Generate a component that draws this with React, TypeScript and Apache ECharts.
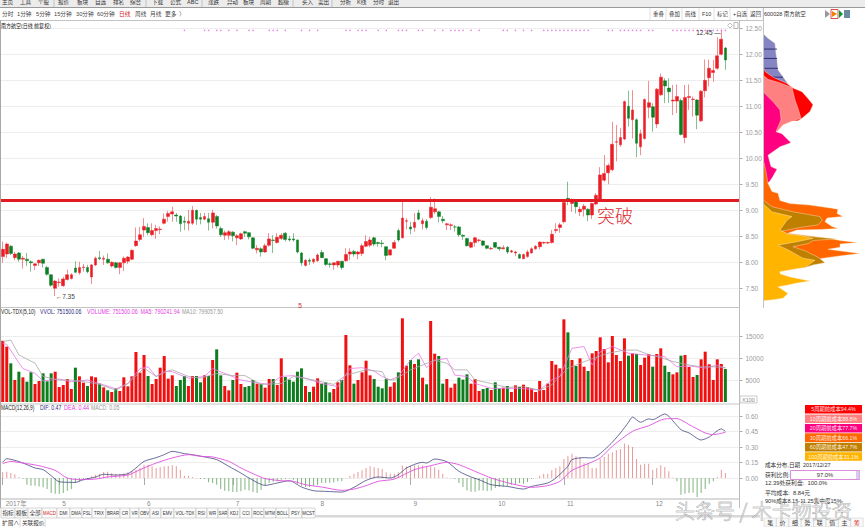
import { useEffect, useRef } from 'react';
import * as echarts from 'echarts';

const FONT = '"Liberation Sans","Noto Sans CJK SC",sans-serif';
const RED = '#ea1c24';
const GREEN = '#0b7f22';

// open, close, low, high
const ohlc: number[][] = [
  [8.11,8.25,7.99,8.40],[8.16,8.35,8.08,8.38],[8.31,8.17,8.14,8.33],[8.09,8.16,8.04,8.20],[8.18,8.06,8.01,8.20],
  [8.06,8.08,7.88,8.12],[8.06,8.03,7.93,8.18],[8.01,7.99,7.82,8.04],[7.94,7.97,7.85,7.98],[7.99,8.04,7.93,8.05],
  [8.06,7.98,7.90,8.06],[7.90,7.77,7.74,7.93],[7.76,7.56,7.53,7.77],[7.50,7.64,7.35,7.66],[7.61,7.62,7.53,7.69],
  [7.55,7.68,7.53,7.72],[7.67,7.76,7.65,7.86],[7.69,7.76,7.67,7.79],[7.89,7.81,7.79,8.02],[7.80,7.90,7.76,8.01],
  [7.90,7.91,7.82,7.97],[7.90,7.82,7.79,7.95],[7.72,7.95,7.58,7.97],[7.95,8.08,7.93,8.11],[8.09,8.07,8.04,8.22],
  [8.06,8.08,7.95,8.13],[8.06,7.99,7.97,8.17],[7.93,8.00,7.90,8.02],[7.99,7.90,7.88,8.01],[7.90,7.99,7.77,8.00],
  [7.99,8.08,7.83,8.11],[8.02,8.10,7.97,8.12],[8.06,8.23,8.04,8.25],[8.32,8.41,8.30,8.67],[8.44,8.53,8.40,8.68],
  [8.62,8.69,8.49,8.85],[8.67,8.57,8.52,8.75],[8.53,8.61,8.51,8.75],[8.61,8.65,8.45,8.72],[8.63,8.64,8.54,8.69],
  [8.75,8.83,8.73,8.94],[8.88,8.94,8.78,8.99],[8.93,8.97,8.78,9.07],[8.91,8.89,8.78,8.95],[8.89,8.74,8.59,8.91],
  [8.79,8.77,8.62,8.88],[8.75,8.79,8.61,9.01],[8.75,9.00,8.72,9.08],[9.00,8.83,8.72,9.01],[8.86,8.83,8.73,8.95],
  [8.83,8.88,8.81,8.95],[8.84,8.77,8.61,8.95],[8.77,8.95,8.65,9.01],[8.88,8.70,8.65,8.91],[8.65,8.53,8.49,8.69],
  [8.52,8.57,8.43,8.61],[8.52,8.59,8.44,8.62],[8.58,8.51,8.40,8.60],[8.47,8.51,8.33,8.54],[8.45,8.55,8.43,8.57],
  [8.59,8.56,8.49,8.61],[8.57,8.49,8.44,8.58],[8.47,8.27,8.25,8.48],[8.24,8.27,8.17,8.33],[8.26,8.20,8.11,8.29],
  [8.20,8.32,8.18,8.36],[8.33,8.45,8.30,8.56],[8.43,8.42,8.18,8.52],[8.38,8.48,8.36,8.56],[8.46,8.52,8.43,8.56],
  [8.56,8.44,8.40,8.58],[8.45,8.43,8.40,8.51],[8.45,8.43,8.40,8.56],[8.43,8.20,8.17,8.44],[8.18,7.99,7.93,8.20],
  [7.94,8.04,7.92,8.06],[8.04,8.02,7.95,8.08],[8.01,8.06,7.97,8.08],[8.03,8.14,8.01,8.17],[8.19,8.09,8.08,8.24],
  [8.07,7.96,7.93,8.08],[7.97,7.96,7.90,8.00],[7.95,7.99,7.86,8.00],[7.95,8.02,7.90,8.03],[8.02,7.90,7.86,8.03],
  [8.03,8.15,8.01,8.27],[8.16,8.20,8.04,8.27],[8.21,8.16,8.11,8.24],[8.16,8.20,8.06,8.22],[8.17,8.32,8.12,8.36],
  [8.31,8.40,8.29,8.52],[8.33,8.43,8.29,8.49],[8.47,8.35,8.31,8.49],[8.38,8.36,8.30,8.40],
  [8.37,8.36,8.29,8.43],[8.30,8.13,8.04,8.31],[8.14,8.24,8.13,8.25],[8.27,8.38,8.26,8.43],[8.61,8.43,8.40,8.65],
  [8.47,8.85,8.46,9.20],[8.79,8.80,8.63,8.85],[8.68,8.64,8.54,8.78],[8.67,8.77,8.59,8.95],[8.95,8.83,8.81,9.01],
  [8.74,8.80,8.63,8.85],[8.79,8.67,8.63,8.83],[8.86,9.06,8.83,9.25],[8.97,9.03,8.93,9.23],[8.97,8.88,8.77,8.99],
  [8.83,8.80,8.75,8.89],[8.72,8.74,8.62,8.76],[8.71,8.72,8.62,8.75],[8.68,8.68,8.59,8.72],[8.68,8.53,8.49,8.70],
  [8.52,8.50,8.43,8.54],[8.46,8.32,8.30,8.47],[8.29,8.38,8.27,8.40],[8.38,8.47,8.30,8.49],[8.42,8.43,8.39,8.45],
  [8.41,8.33,8.31,8.43],[8.32,8.27,8.25,8.33],[8.26,8.27,8.24,8.30],[8.38,8.29,8.27,8.39],[8.29,8.26,8.22,8.30],
  [8.26,8.28,8.25,8.33],[8.29,8.20,8.16,8.31],[8.20,8.22,8.18,8.24],[8.18,8.20,8.12,8.22],[8.15,8.08,8.07,8.17],
  [8.07,8.15,8.06,8.17],[8.11,8.20,8.09,8.24],[8.18,8.26,8.17,8.29],[8.26,8.31,8.24,8.33],[8.30,8.39,8.25,8.40],
  [8.37,8.38,8.35,8.40],[8.37,8.38,8.35,8.40],[8.38,8.54,8.36,8.62],[8.61,8.63,8.56,8.75],[8.67,8.72,8.57,8.76],
  [8.78,9.15,8.75,9.17],[9.23,9.17,9.10,9.55],[9.13,9.20,8.97,9.23],[9.18,9.07,8.94,9.20],[8.97,9.02,8.89,9.07],
  [9.02,9.08,8.88,9.12],[9.02,8.91,8.79,9.04],[8.91,9.13,8.83,9.15],[9.12,9.29,9.10,9.33],[9.20,9.68,9.17,9.83],
  [9.58,9.71,9.55,10.06],[9.72,9.86,9.50,9.90],[9.78,10.27,9.75,10.70],[10.31,10.32,9.94,10.64],[10.26,10.40,10.22,10.58],
  [10.37,11.09,10.35,11.11],[11.00,10.77,10.61,11.30],[10.74,10.93,10.38,11.31],[10.74,10.29,10.02,10.77],[10.22,10.47,10.06,10.55],
  [10.38,11.13,10.36,11.15],[10.98,11.07,10.77,11.49],[10.99,10.79,10.51,11.06],[10.66,11.33,10.58,11.35],[11.22,11.56,11.20,11.63],
  [11.49,11.39,11.06,11.54],[11.35,11.28,11.07,11.54],[11.10,11.12,10.83,11.41],[11.10,11.19,10.87,11.42],[11.11,10.46,10.44,11.15],
  [10.40,11.17,10.29,11.41],[11.17,11.19,10.93,11.42],[11.13,11.14,10.80,11.19],[11.12,10.83,10.56,11.14],[10.72,11.29,10.70,11.31],
  [11.30,11.50,11.17,11.90],[11.55,11.73,11.38,11.90],[11.65,11.69,11.47,11.89],[11.73,11.97,11.70,12.33],[12.00,12.29,11.98,12.47],
  [12.12,11.89,11.70,12.14],
];

const volumes = [
  13940,12580,8790,5000,6890,5610,4620,6740,4090,4770,
  6520,4700,6520,6890,3410,3860,5230,2950,7800,5830,
  4390,3640,5830,5610,4170,3330,2650,2270,3110,2500,
  5610,3560,5830,11360,6670,10680,5910,4090,5230,7800,
  10450,5300,6060,3640,5000,5910,3640,5910,5910,4470,
  6060,5910,9550,11970,6060,3640,2650,5000,6670,4090,
  3410,3640,5000,4170,4090,3260,5230,5230,3860,9920,
  5680,5080,4620,6890,7650,3640,2270,3480,5380,4170,
  4470,2200,2950,4470,5000,15230,8330,4170,5000,6740,
  9390,6060,5230,3480,
  3110,5230,3480,4470,6740,19020,8260,9550,8640,9700,
  5530,4020,18410,10990,10450,4170,5230,3260,4170,5530,
  5080,6290,4170,5230,2500,2950,3180,2730,4470,3110,
  3260,3640,2270,3790,3410,3940,3410,3110,2270,4770,
  2730,4170,9320,8490,7650,18790,15830,9550,8180,9920,
  8030,7050,11060,11590,14700,12050,9020,15000,10680,9320,
  14470,10530,11060,10910,8410,10080,10910,8030,10910,12200,
  8260,6820,6290,6740,10530,10680,7950,5680,6140,9700,
  11440,8560,5000,9700,8640,7500,
];

// [candle index, value] vertices read along each moving average
const volMa5 = [[0,13300],[1,13100],[3,10300],[5,7600],[8,6500],[10,4800],[14,5200],[17,4600],[21,5000],[25,3900],[28,3000],[31,4200],[34,7600],[36,8000],[38,5800],[40,6900],[42,6900],[46,5400],[50,5800],[52,7600],[55,6500],[59,5000],[62,4500],[66,4000],[69,5800],[72,6000],[75,5400],[79,4200],[83,3500],[86,7600],[89,7800],[92,7000],[94,5800],[96,5000],[98,5800],[101,9500],[103,11100],[105,7800],[107,9500],[110,9900],[112,6100],[115,5800],[117,4200],[121,3100],[125,3100],[128,3100],[133,2700],[136,5000],[138,5800],[141,12200],[144,12600],[146,8400],[148,11400],[151,12600],[155,11100],[159,10700],[164,10300],[167,8000],[170,8200],[174,7700],[177,8400],[179,7700]];
const volMa10 = [[0,13700],[2,14100],[4,10700],[8,8800],[10,5800],[14,5000],[17,5000],[21,4500],[24,4000],[28,2700],[31,4200],[35,7700],[38,5800],[41,7100],[42,7300],[46,5800],[49,5400],[53,6500],[57,6000],[60,6000],[64,4000],[69,4200],[72,5800],[77,5000],[82,4000],[85,6100],[90,7300],[94,6900],[95,5200],[97,5000],[101,7300],[104,8400],[107,9500],[110,8800],[112,7300],[115,7300],[117,5000],[121,4200],[125,3300],[129,3500],[133,2700],[136,3900],[140,7700],[145,9500],[150,11100],[154,11800],[157,11800],[160,10800],[163,10100],[166,9200],[170,8400],[173,8000],[176,8000],[179,7800]];

const macdBars = [
  .058,.061,.048,.036,.01,-.006,-.065,-.074,-.074,-.081,
  -.09,-.107,-.145,-.152,-.155,-.145,-.123,-.107,-.048,-.032,
  -.016,-.01,.016,.032,.042,.058,.061,.048,.042,.042,
  .042,.055,.065,.081,.097,.129,.129,.113,.097,.103,
  .113,.116,.123,.113,.081,.023,.023,.01,-.003,-.01,
  -.01,-.042,-.048,-.065,-.107,-.123,-.129,-.136,-.136,-.129,
  -.113,-.12,-.136,-.145,-.113,-.074,-.048,-.036,-.032,-.016,
  -.01,-.006,-.016,-.055,-.074,-.087,-.087,-.074,-.058,-.048,
  -.048,-.045,-.042,-.032,-.032,-.003,.023,.042,.058,.074,
  .097,.113,.103,.097,
  .09,.055,.042,.042,.055,.12,.113,.116,.123,.123,
  .12,.113,.113,.103,.081,.042,.006,-.003,-.01,-.048,
  -.087,-.12,-.132,-.132,-.12,-.12,-.126,-.12,-.097,-.087,
  -.081,-.074,-.065,-.065,-.048,-.055,-.039,-.01,0,.023,
  .042,.042,.074,.097,.113,.184,.216,.236,.21,.203,
  .145,.145,.097,.097,.184,.203,.236,.249,.268,.281,
  .333,.317,.3,.184,.129,.139,.139,.081,.097,.123,
  .107,.065,.006,-.032,-.162,-.152,-.145,-.139,-.184,-.145,
  -.107,-.055,-.032,.01,.081,.048,
];
const difLine = [[0,.152],[1,.187],[3,.171],[5,.145],[8,.097],[10,.081],[12,.023],[14,-.036],[18,-.042],[20,-.016],[23,.01],[25,.036],[28,.029],[31,.042],[33,.097],[35,.161],[38,.197],[40,.226],[42,.258],[45,.236],[47,.226],[50,.204],[53,.178],[56,.113],[59,.048],[61,0],[65,-.071],[68,-.048],[71,-.026],[74,-.087],[77,-.123],[80,-.129],[84,-.136],[87,-.090],[90,-.023],[93,.01],[96,0],[98,.032],[100,.097],[104,.152],[105,.145],[107,.184],[110,.158],[113,.065],[116,.01],[118,-.016],[121,-.065],[125,-.081],[129,-.107],[131,-.081],[135,-.048],[137,0],[140,.113],[141,.178],[144,.197],[146,.194],[150,.307],[153,.436],[155,.539],[156,.59],[158,.539],[160,.572],[161,.565],[164,.62],[165,.597],[168,.468],[170,.436],[173,.368],[175,.397],[178,.475],[179,.452]];
const deaLine = [[0,.139],[2,.161],[5,.145],[9,.119],[13,.074],[16,0],[19,-.016],[23,-.01],[26,.01],[31,.029],[34,.081],[38,.145],[42,.194],[46,.226],[49,.21],[52,.204],[56,.161],[59,.097],[62,.042],[65,-.006],[69,-.026],[72,-.032],[75,-.065],[79,-.087],[84,-.119],[87,-.107],[90,-.074],[93,-.032],[97,-.01],[102,.081],[106,.119],[110,.152],[113,.129],[118,.048],[121,0],[126,-.055],[131,-.09],[135,-.074],[138,-.032],[141,.074],[145,.139],[148,.194],[151,.307],[156,.452],[160,.505],[164,.572],[167,.575],[170,.517],[174,.436],[176,.42],[179,.442]];

const priceTicks = [7.5,8,8.5,9,9.5,10,10.5,11,11.5,12,12.5];
const volTicks = [5000,10000,15000];
const macdTicks = [0,.15,.3,.45,.6];
const breakoutPrice = 9.2;

const monthIndex = [0,14,35,57,78,101,122,139,161];
const monthLabels = ['2017年','5','6','7','8','9','10','11','12'];
const signalIndex = [45,50,51,53,54,56,58,61,62,66,67,68,70,74,76,78,85,86,88,89,90,93,95,98,99,100,103,104,107,109,111,112,113,114,116,118,124,125,127,129,131,134,135,136,137,138,139,140,141,142,143,144,145,150,151,153,154,155,156,157,158,160,161,166,167,168,169,170,171,172,173,174,175,176,177,178,179];

// cost distribution outlines, [price, width]
const costBlue = [[12.40,0],[12.31,5],[12.21,12],[12.02,13],[11.89,14],[11.70,15],[11.57,20],[11.43,25],[11.30,0]];
const costBlueMarks = [[12.10,14],[11.92,14],[11.73,15],[11.56,20]];
const cost5 = [[11.79,0],[11.67,2],[11.56,10],[11.44,24],[11.35,30],[11.28,39],[11.15,45],[11.03,50],[10.90,47],[10.77,39],[10.72,35],[10.70,0]];
const cost10 = [[11.60,0],[11.52,5],[11.45,17],[11.36,29],[11.28,30],[11.12,32],[10.96,35],[10.77,38],[10.72,30],[10.64,20],[10.51,14],[10.50,0]];
const cost20 = [[11.28,0],[11.09,10],[10.93,17],[10.74,18],[10.51,13],[10.47,19],[10.30,28],[10.22,17],[10.06,5],[9.84,8],[9.79,14],[9.62,9],[9.54,6],[9.53,0]];
const cost30 = [[10.0,0],[9.75,3],[9.52,5],[9.36,9],[9.33,15],[9.19,17],[9.13,27],[9.10,47],[9.04,69],[9.02,75],[8.94,74],[8.88,80],[8.85,64],[8.78,62],[8.69,69],[8.65,75],[8.63,57],[8.62,34],[8.56,25],[8.46,67],[8.42,77],[8.38,94],[8.35,77],[8.29,77],[8.25,65],[8.17,97],[8.14,84],[8.08,60],[8.04,50],[8.03,0]];
const cost60 = [[9.20,0],[9.07,9],[8.97,30],[8.88,57],[8.81,59],[8.72,55],[8.67,37],[8.60,19],[8.54,25],[8.49,50],[8.45,74],[8.42,50],[8.36,45],[8.30,30],[8.22,42],[8.10,55],[7.99,62],[7.95,50],[7.90,42],[7.89,0]];
const cost100 = [[9.13,0],[8.97,9],[8.88,29],[8.81,24],[8.62,17],[8.54,25],[8.52,37],[8.46,50],[8.40,35],[8.33,15],[8.24,25],[8.08,40],[8.04,52],[7.90,42],[7.88,35],[7.82,17],[7.78,17],[7.72,27],[7.64,47],[7.60,34],[7.56,24],[7.53,15],[7.47,20],[7.40,25],[7.31,20],[7.28,10],[7.26,0]];

const costNames = ['5周期前成本94.4%','10周期前成本88.8%','20周期前成本77.7%','30周期前成本66.1%','60周期前成本47.7%','100周期前成本31.1%'];
const costColors = ['#ff0000','#ff8080','#ff0080','#ff6600','#bf8000','#ffb400'];

const periodTabs = ['分时','1分钟','5分钟','15分钟','30分钟','60分钟','日线','周线','月线','更多','〉'];
const toolButtons = ['重叠','叠加','画线','F10','标记','+自选','返回'];
const menuWords = ['主页','工具','个股','报价','板块','自选','排名','综合','下载','公式','ABC','涨跌','异动','板块','周期','超级','买入','卖出','分析','K线','分时','退出'];
const indicatorTabs = ['指标','模板','全部','MACD','DMI','DMA','FSL','TRIX','BRAR','CR','VR','OBV','ASI','EMV','VOL-TDX','RSI','WR','SAR','KDJ','CCI','ROC','MTM','BOLL','PSY','MCST'];
const sideTabs = ['笔','价','细','势','联','值','主','筹'];

// left edges in px for the chrome, kept apart from the label lists
const periodX = [2,17,36,54,76,97,119,135,150,165,179];
const toolX = [653,669,685,702,717,733,750];
const menuX = [2,20,38,58,77,95,113,130,152,170,187,208,227,243,260,278,302,318,340,357,373,388];
const tabEdges = [1,15,28,42,57,70,82,92,106,120,130,139,150,161,174,196,207,218,228,240,252,264,276,289,302,315];

const categories = Array.from({ length: 183 }, (_, i) => {
  const m = monthIndex.indexOf(i);
  return m >= 0 ? monthLabels[m] : '';
});

// sx squeezes the text sideways, the reference image is narrower than it is tall
function txt(text: string, x: number, y: number, fill = '#222', size = 6.5, align = 'left', sx = 1, extra: any = {}) {
  return {
    type: 'text',
    silent: true,
    z: 50,
    x,
    y,
    scaleX: sx,
    style: { text, x: 0, y: 0, fill, fontSize: size, fontFamily: FONT, align, verticalAlign: 'middle', ...extra },
  };
}
function ln(x1: number, y1: number, x2: number, y2: number, stroke = '#bdbdbd', lineWidth = 1) {
  return { type: 'line', silent: true, z: 40, shape: { x1, y1, x2, y2 }, style: { stroke, lineWidth } };
}
function box(x: number, y: number, width: number, height: number, fill: string, stroke = 'none', lineWidth = 0.6, z = 30) {
  return { type: 'rect', silent: true, z, shape: { x, y, width, height }, style: { fill, stroke, lineWidth } };
}

function costSeries(name: string, points: number[][], color: string) {
  return {
    type: 'custom',
    name,
    xAxisIndex: 3,
    yAxisIndex: 3,
    silent: true,
    clip: true,
    data: [[0, points[0][0]]],
    renderItem: (_: any, api: any) => {
      const outline = points.map(([p, w]) => api.coord([w, p]));
      return {
        type: 'polygon',
        shape: { points: outline },
        style: { fill: color, stroke: 'rgba(255,240,210,0.8)', lineWidth: 0.5 },
      };
    },
  };
}

function buildGraphic() {
  const els: any[] = [];
  // top menu, cut by the window edge
  els.push(box(0, 0, 865, 7, '#ececec'), ln(0, 7.5, 865, 7.5, '#9a9a9a', 1));
  menuWords.forEach((w, i) => els.push(txt(w, menuX[i], 1.5, '#333', 5.6)));
  [54, 146, 202, 293, 332].forEach((x) => els.push(ln(x, 0, x, 7, '#aaa', 0.6)));

  periodTabs.forEach((w, i) => els.push(txt(w, periodX[i], 14, w === '日线' ? '#d8221c' : '#444', 6, 'left', 0.95)));
  toolButtons.forEach((w, i) => els.push(txt(w, toolX[i], 14, '#333', 5.4)));
  [650, 666, 682, 699, 714, 730, 747, 763].forEach((x) => els.push(ln(x, 8, x, 20, '#cfcfcf', 0.6)));
  els.push(txt('600028 南方航空', 764, 14, '#333', 5.8, 'left', 0.95));
  els.push({ type: 'polygon', silent: true, z: 45, shape: { points: [[825, 10], [830, 14], [825, 18]] }, style: { fill: '#999' } });
  els.push(box(831, 9.5, 7, 9, '#fff', '#d8221c', 0.8, 44));
  els.push({ type: 'polygon', silent: true, z: 45, shape: { points: [[832, 11], [837, 14], [832, 17]] }, style: { fill: '#f08000' } });
  els.push({ type: 'polygon', silent: true, z: 45, shape: { points: [[839, 10], [843, 14], [839, 18]] }, style: { fill: '#0a9a3a' } });
  els.push(box(844, 10, 6, 8, '#6a8aa0', 'none', 0.6, 45));

  // frames
  els.push(ln(0, 20.5, 763, 20.5, '#c4c4c4', 1.2));
  els.push(ln(0, 307.5, 740, 307.5, '#c4c4c4', 1.2));
  els.push(ln(0, 404, 740, 404, '#c4c4c4', 1));
  els.push(ln(0, 499, 740, 499, '#b5b5b5', 1));
  els.push(ln(0.5, 20, 0.5, 508, '#a8a8a8', 1));
  els.push(ln(739.5, 20, 739.5, 508, '#bdbdbd', 1));
  els.push(ln(763.5, 8, 763.5, 308, '#c4c4c4', 1));

  els.push(txt('南方航空(日线 前复权)', 1, 25.5, '#222', 5.9, 'left', 0.85));
  els.push(txt('5', 300, 305, '#d8221c', 6.5, 'center'));
  els.push({ type: 'polygon', silent: true, z: 45, shape: { points: [[730, 23], [732.5, 25.5], [730, 28], [727.5, 25.5]] }, style: { fill: '#fff', stroke: '#999', lineWidth: 0.6 } });
  els.push(box(734, 22.5, 4, 6, '#fff', '#999', 0.7, 45));
  els.push(txt('突破', 597, 215, '#e0282e', 18, 'left', 1, { fontFamily: '"Noto Sans CJK SC"', fontWeight: 300 }));

  // pane captions
  els.push(txt('VOL-TDX(5,10)', 1, 312, '#222', 6.5, 'left', 0.76), txt('VVOL: 751500.06', 40, 312, '#2a2a80', 6.5, 'left', 0.8));
  els.push(txt('VOLUME: 751500.06  MA5: 790241.94', 87, 312, '#e040e0', 6.5, 'left', 0.82), txt('MA10: 799057.50', 182, 312, '#999', 6.5, 'left', 0.8));
  els.push(txt('MACD(12,26,9)', 1, 408, '#222', 6.5, 'left', 0.74), txt('DIF: 0.47', 40, 408, '#2a2a80', 6.5, 'left', 0.8));
  els.push(txt('DEA: 0.44', 64, 408, '#e040e0', 6.5, 'left', 0.85), txt('MACD: 0.05', 91, 408, '#999', 6.5, 'left', 0.8));
  els.push(box(740, 396, 17, 7, '#fff', '#aaa', 0.6, 35), txt('X100', 748.5, 399.5, '#888', 5.5, 'center'));

  // indicator tabs
  indicatorTabs.forEach((w, i) => {
    const x0 = tabEdges[i];
    const x1 = tabEdges[i + 1];
    els.push(box(x0, 508, x1 - x0, 10, '#fbfbfb', '#bdbdbd', 0.6));
    const isWord = w.charCodeAt(0) < 128;
    els.push(txt(w, (x0 + x1) / 2, 513, w === 'MACD' ? '#d8221c' : '#333', 5.6, 'center', isWord ? 0.78 : 1));
  });
  els.push(box(315, 515, 445, 2.5, '#d8d8d8'));
  els.push(txt('扩展∧', 2, 523, '#333', 5.8), ln(20, 519, 20, 527, '#bbb', 0.6));
  els.push(txt('关联报价', 22, 523, '#333', 5.6), ln(45, 519, 45, 527, '#bbb', 0.6));

  // cost panel
  costNames.forEach((w, i) => {
    els.push(box(805, 405 + i * 9.45, 57, 8.6, costColors[i]));
    els.push(txt(w, 833.5, 409.3 + i * 9.45, 'rgba(255,255,255,0.9)', 5.6, 'center', 0.95));
  });
  els.push(txt('成本分布,日期', 765, 464.5, '#333', 5.6), txt('2017/12/27', 803, 464.5, '#333', 5.8, 'left', 0.95));
  els.push(txt('获利比例:', 765, 474.5, '#333', 5.8));
  els.push(box(790.5, 470.5, 69, 9, '#fff', '#d070d0', 0.8, 35), box(856, 471, 3.5, 8, '#d9c8f0', 'none', 0.6, 36));
  els.push(txt('97.0%', 825, 474.5, '#333', 5.8, 'center'));
  els.push(txt('12.39处获利盘:  100.0%', 765, 483, '#333', 5.8));
  els.push(txt('平均成本:  8.84元', 765, 492.5, '#333', 5.8));
  els.push(txt('90%成本8.15-11.25集中度15%', 765, 501, '#333', 5.6));
  sideTabs.forEach((w, i) => {
    els.push(box(764 + i * 12.4, 518, 12.4, 9, '#f8f8f8', '#c8c8c8', 0.5));
    els.push(txt(w, 770.2 + i * 12.4, 522.5, i === 7 ? '#d8221c' : '#333', 6, 'center'));
  });

  // site watermark over the corner
  els.push(txt('头条号 / 木卡物投资', 675, 510, 'rgba(255,255,255,0.6)', 20, 'left', 1, {
    stroke: '#8a8a8a',
    lineWidth: 0.55,
    fontFamily: '"Noto Sans CJK SC"',
    fontWeight: 300,
  }));
  return els;
}

export default function App() {
  const chartRef = useRef<HTMLDivElement>(null);

  useEffect(() => {
    if (!chartRef.current) return;
    const chart = echarts.init(chartRef.current, undefined, { renderer: 'svg' });

    const hiddenX = (gridIndex: number) => ({
      type: 'category' as const,
      gridIndex,
      data: categories,
      show: false,
    });
    const splitLine = { show: true, lineStyle: { color: '#dcdcdc', type: 'dotted' as const, width: 1 } };
    const rightY = (gridIndex: number, min: number, max: number, ticks: number[], digits: number) => ({
      type: 'value' as const,
      gridIndex,
      position: 'right' as const,
      min,
      max,
      axisLine: { show: true, lineStyle: { color: '#bdbdbd' } },
      axisTick: { show: true, length: 3, customValues: ticks, lineStyle: { color: '#aaa' } },
      axisLabel: {
        show: true,
        customValues: ticks,
        margin: 6,
        fontSize: 6.5,
        color: '#9a9a9a',
        fontFamily: FONT,
        formatter: (v: number) => v.toFixed(digits),
      },
      splitLine,
    });

    chart.setOption({
      animation: false,
      backgroundColor: '#fff',
      textStyle: { fontFamily: FONT },
      grid: [
        { left: 0.7, top: 21, width: 738.8, height: 285 },
        { left: 0.7, top: 308, width: 738.8, height: 94 },
        { left: 0.7, top: 405, width: 738.8, height: 94 },
        { left: 763, top: 21, width: 102, height: 285 },
      ],
      xAxis: [
        hiddenX(0),
        hiddenX(1),
        {
          type: 'category',
          gridIndex: 2,
          data: categories,
          axisLine: { show: false },
          axisTick: {
            show: true,
            length: 7,
            alignWithLabel: true,
            interval: (i: number) => monthIndex.includes(i),
            lineStyle: { color: '#aaa' },
          },
          axisLabel: {
            show: true,
            interval: (i: number) => monthIndex.includes(i),
            align: 'left',
            margin: 1,
            padding: [0, 0, 0, 3],
            fontSize: 6.5,
            color: '#8a8a8a',
          },
          splitLine: { show: false },
        },
        { type: 'value', gridIndex: 3, min: 0, max: 102, show: false },
      ],
      yAxis: [
        rightY(0, 7.16, 12.64, priceTicks, 2),
        rightY(1, 0, 21364, volTicks, 0),
        rightY(2, -0.203, 0.7065, macdTicks, 2),
        { type: 'value', gridIndex: 3, min: 7.16, max: 12.64, show: false },
      ],
      series: [
        {
          type: 'candlestick',
          name: 'K',
          xAxisIndex: 0,
          yAxisIndex: 0,
          barWidth: 3.2,
          data: ohlc,
          itemStyle: { color: RED, color0: GREEN, borderColor: RED, borderColor0: GREEN, borderWidth: 0.5 },
          markLine: {
            silent: true,
            symbol: 'none',
            label: { show: false },
            lineStyle: { color: '#e21b23', width: 3, type: 'solid' },
            data: [{ yAxis: breakoutPrice }],
          },
          markPoint: {
            silent: true,
            symbol: 'circle',
            symbolSize: 1,
            itemStyle: { color: 'rgba(0,0,0,0)' },
            data: [
              {
                coord: [178, 12.47],
                label: { show: true, position: 'left', formatter: '12.45 —', fontSize: 6.5, color: '#333', distance: 0, offset: [0, 3] },
              },
              {
                coord: [13, 7.35],
                label: { show: true, position: 'right', formatter: '←7.35', fontSize: 6.5, color: '#444', distance: 0 },
              },
            ],
          },
        },
        {
          type: 'scatter',
          name: 'signal',
          xAxisIndex: 0,
          yAxisIndex: 0,
          symbolSize: 1.6,
          silent: true,
          itemStyle: { color: '#e060e0' },
          data: signalIndex.map((i) => [i, 12.46]),
        },
        {
          type: 'bar',
          name: 'VOL',
          xAxisIndex: 1,
          yAxisIndex: 1,
          barWidth: 3,
          data: volumes,
          itemStyle: {
            color: (p: any) => (ohlc[p.dataIndex][1] >= ohlc[p.dataIndex][0] ? '#f20f0f' : '#0e7d1e'),
          },
        },
        { type: 'line', name: 'MA5', xAxisIndex: 1, yAxisIndex: 1, data: volMa5, symbol: 'none', lineStyle: { color: '#e878e8', width: 0.8 } },
        { type: 'line', name: 'MA10', xAxisIndex: 1, yAxisIndex: 1, data: volMa10, symbol: 'none', lineStyle: { color: '#a8a8a8', width: 0.8 } },
        {
          type: 'bar',
          name: 'MACD',
          xAxisIndex: 2,
          yAxisIndex: 2,
          barWidth: 1,
          data: macdBars,
          itemStyle: { color: (p: any) => (p.value >= 0 ? '#e79a9a' : '#7fb37f') },
        },
        { type: 'line', name: 'DIF', xAxisIndex: 2, yAxisIndex: 2, data: difLine, symbol: 'none', smooth: 0.25, lineStyle: { color: '#44497f', width: 0.8 } },
        { type: 'line', name: 'DEA', xAxisIndex: 2, yAxisIndex: 2, data: deaLine, symbol: 'none', smooth: 0.25, lineStyle: { color: '#e24fe0', width: 0.9 } },
        costSeries('blue', costBlue, '#8585c4'),
        {
          type: 'custom',
          name: 'blueMarks',
          xAxisIndex: 3,
          yAxisIndex: 3,
          silent: true,
          data: costBlueMarks,
          renderItem: (_: any, api: any) => {
            const a = api.coord([0, api.value(0)]);
            const b = api.coord([api.value(1), api.value(0)]);
            return { type: 'line', shape: { x1: a[0], y1: a[1], x2: b[0], y2: b[1] }, style: { stroke: '#1c1c60', lineWidth: 0.8 } };
          },
        },
        costSeries('5', cost5, costColors[0]),
        costSeries('10', cost10, costColors[1]),
        costSeries('20', cost20, costColors[2]),
        costSeries('30', cost30, costColors[3]),
        costSeries('60', cost60, costColors[4]),
        costSeries('100', cost100, costColors[5]),
      ],
      graphic: { elements: buildGraphic() },
    });

    return () => chart.dispose();
  }, []);

  return <div ref={chartRef} style={{ position: 'fixed', left: 0, top: 0, width: 865, height: 527 }} />;
}
